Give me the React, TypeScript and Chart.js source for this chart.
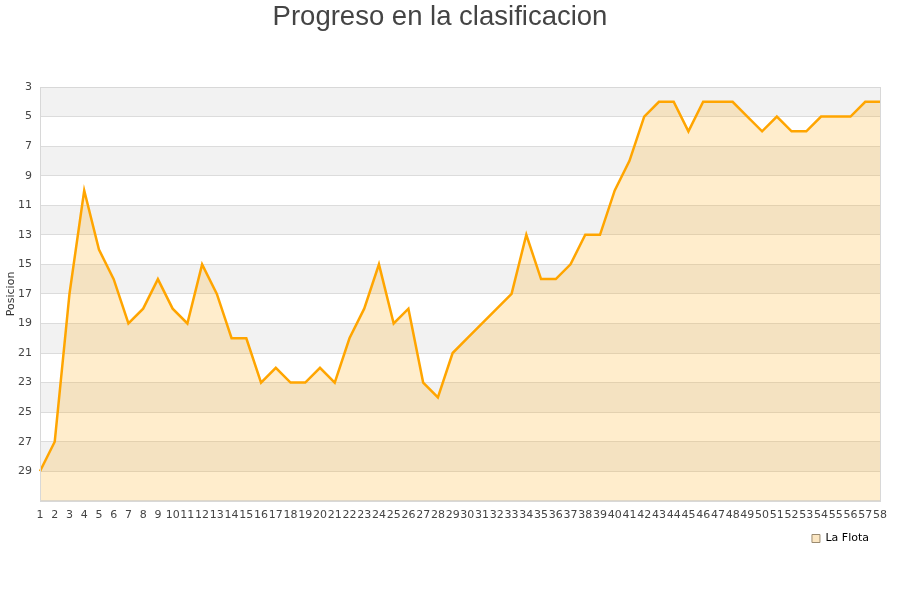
import React, { useEffect, useRef } from "react";
import { Chart, registerables } from "chart.js";

Chart.register(...registerables);

const jornadas: string[] = Array.from({ length: 58 }, (_, i) => String(i + 1));
const posiciones: number[] = [
  29, 27, 17, 10, 14, 16, 19, 18, 16, 18,
  19, 15, 17, 20, 20, 23, 22, 23, 23, 22,
  23, 20, 18, 15, 19, 18, 23, 24, 21, 20,
  19, 18, 17, 13, 16, 16, 15, 13, 13, 10,
  8, 5, 4, 4, 6, 4, 4, 4, 5, 6,
  5, 6, 6, 5, 5, 5, 4, 4,
];
const yMin = 3;
const yMax = 31;
const bandStarts: number[] = [3, 7, 11, 15, 19, 23, 27];
const titleText = "Progreso en la clasificacion";
const seriesName = "La Flota";
const yTitle = "Posicion";

const bandsPlugin = {
  id: "bands",
  beforeDraw(chart: any) {
    const { ctx, chartArea, scales } = chart;
    const y = scales.y;
    ctx.save();
    ctx.fillStyle = "#f2f2f2";
    bandStarts.forEach((v) => {
      const y1 = y.getPixelForValue(v);
      const y2 = y.getPixelForValue(v + 2);
      ctx.fillRect(chartArea.left, Math.min(y1, y2), chartArea.right - chartArea.left, Math.abs(y2 - y1));
    });
    ctx.restore();
  },
  afterDraw(chart: any) {
    const { ctx, chartArea } = chart;
    ctx.save();
    ctx.strokeStyle = "#d8d8d8";
    ctx.lineWidth = 1;
    ctx.strokeRect(
      Math.round(chartArea.left) + 0.5,
      Math.round(chartArea.top) + 0.5,
      Math.round(chartArea.right - chartArea.left),
      Math.round(chartArea.bottom - chartArea.top)
    );
    ctx.restore();
  },
};

export default function App() {
  const ref = useRef<HTMLCanvasElement | null>(null);
  useEffect(() => {
    if (!ref.current) return;
    const chart = new Chart(ref.current, {
      type: "line",
      data: {
        labels: jornadas,
        datasets: [
          {
            label: seriesName,
            data: posiciones,
            borderColor: "#FFA500",
            backgroundColor: "rgba(255,165,0,0.2)",
            borderWidth: 2.5,
            fill: "start",
            tension: 0,
            pointRadius: 0,
          },
        ],
      },
      options: {
        responsive: false,
        animation: false,
        layout: { padding: { left: 0, right: 20, top: 0, bottom: 46 } },
        plugins: {
          title: {
            display: true,
            text: titleText,
            color: "#444",
            font: { family: "Liberation Sans", size: 27.5, weight: "normal" },
            padding: { top: 1, bottom: 53 },
          },
          legend: {
            position: "bottom",
            align: "end",
            labels: {
              boxWidth: 8,
              boxHeight: 8,
              padding: 11,
              color: "#000",
              font: { family: "DejaVu Sans", size: 11 },
              generateLabels: () => [
                {
                  text: seriesName,
                  fillStyle: "#fbe6c2",
                  strokeStyle: "#9a8a70",
                  lineWidth: 1,
                  hidden: false,
                  datasetIndex: 0,
                },
              ],
            },
          },
          tooltip: { enabled: false },
        },
        scales: {
          x: {
            grid: { display: false },
            border: { display: false },
            ticks: {
              autoSkip: false,
              maxRotation: 0,
              minRotation: 0,
              color: "#444",
              padding: 0,
              font: { family: "DejaVu Sans", size: 11 },
            },
          },
          y: {
            reverse: true,
            min: yMin,
            max: yMax,
            afterFit: (s: any) => {
              s.width = 40;
            },
            grid: { color: "#dcdcdc", drawTicks: false },
            border: { display: false },
            ticks: {
              stepSize: 2,
              color: "#444",
              padding: 8,
              font: { family: "DejaVu Sans", size: 11 },
              callback: (v: any) => (v === yMax ? "" : String(v)),
            },
            title: {
              display: true,
              text: yTitle,
              color: "#333",
              padding: { top: 5, bottom: 0 },
              font: { family: "DejaVu Sans", size: 11 },
            },
          },
        },
      },
      plugins: [bandsPlugin],
    });
    return () => chart.destroy();
  }, []);
  return (
    <div style={{ position: "fixed", left: 0, top: 0, width: 900, height: 600, background: "#fff" }}>
      <canvas ref={ref} width={900} height={600} />
    </div>
  );
}
